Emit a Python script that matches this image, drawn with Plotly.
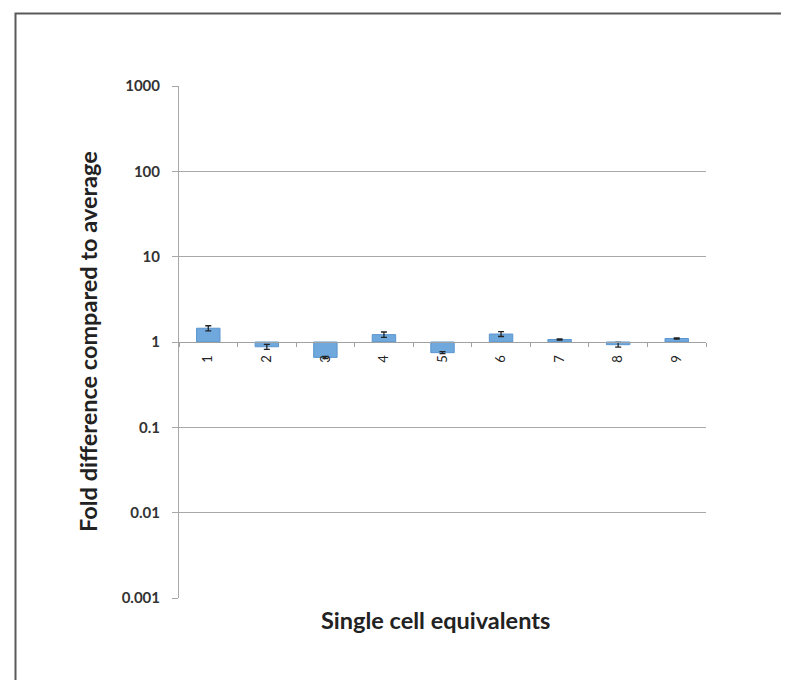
import plotly.graph_objects as go

categories = ["1", "2", "3", "4", "5", "6", "7", "8", "9"]
fold_values = [1.45, 0.88, 0.66, 1.22, 0.75, 1.24, 1.07, 0.93, 1.1]
fold_errors = [0.10, 0.06, 0.02, 0.09, 0.02, 0.08, 0.02, 0.06, 0.02]
ytick_vals = [0.001, 0.01, 0.1, 1, 10, 100, 1000]
ytick_text = ["0.001", "0.01", "0.1", "1", "10", "100", "1000"]
baseline = 1

OFF = 8  # page body margin
W, H = 789 - OFF, 688 - 2 * OFF
L, T = 179 - OFF, 86 - OFF
R = W - (706 - OFF)
B = H - (598 - OFF)
pw, ph = W - L - R, H - T - B


def px(x):
    return (x - OFF - L) / pw


def py(y):
    return (H - B - (y - OFF)) / ph


FONT = "Lato, Liberation Sans, Arial, sans-serif"

fig = go.Figure()
fig.add_trace(go.Bar(
    x=categories,
    y=[v - baseline for v in fold_values],
    base=baseline,
    width=0.4,
    marker=dict(color="#6fa8dc", line=dict(color="#5b95cf", width=1)),
    showlegend=False,
))
fig.add_trace(go.Scatter(
    x=categories,
    y=fold_values,
    mode="markers",
    marker=dict(size=1, opacity=0),
    error_y=dict(type="data", array=fold_errors, color="#222222", thickness=1.3, width=3),
    showlegend=False,
))

fig.update_layout(
    width=W, height=H,
    margin=dict(l=L, r=R, t=T, b=B),
    paper_bgcolor="white",
    plot_bgcolor="white",
    font=dict(family=FONT, color="#333333"),
    xaxis=dict(
        type="category",
        range=[-0.5, 8.5],
        anchor="free",
        position=0.5,
        showline=True,
        linecolor="#a0a0a0",
        linewidth=1,
        ticks="outside",
        tickson="boundaries",
        ticklen=4,
        tickcolor="#a0a0a0",
        tickangle=-90,
        ticklabelstandoff=7,
        tickfont=dict(size=13, color="#222222"),
        showgrid=False,
        zeroline=False,
    ),
    yaxis=dict(
        type="log",
        range=[-3, 3],
        tickvals=ytick_vals,
        ticktext=ytick_text,
        showgrid=True,
        gridcolor="#a8a8a8",
        gridwidth=1,
        showline=True,
        linecolor="#a8a8a8",
        ticks="outside",
        ticklen=6,
        tickcolor="#a8a8a8",
        ticklabelstandoff=9,
        tickfont=dict(size=15, color="#333333", weight="bold"),
        zeroline=False,
    ),
    shapes=[
        dict(type="rect", xref="paper", yref="paper",
             x0=px(15.5), x1=px(785), y0=py(700), y1=py(13.5),
             line=dict(color="#5a5a5a", width=2), fillcolor="rgba(0,0,0,0)", layer="below"),
    ],
    annotations=[
        dict(text="Fold difference compared to average", xref="paper", yref="paper",
             x=px(88), y=py(342), textangle=-90, showarrow=False,
             font=dict(size=23.5, color="#222222", weight="bold"),
             xanchor="center", yanchor="middle"),
        dict(text="Single cell equivalents", xref="paper", yref="paper",
             x=px(435), y=py(620), showarrow=False,
             font=dict(size=23.5, color="#222222", weight="bold"),
             xanchor="center", yanchor="middle"),
    ],
)

fig.write_html("out.html")
